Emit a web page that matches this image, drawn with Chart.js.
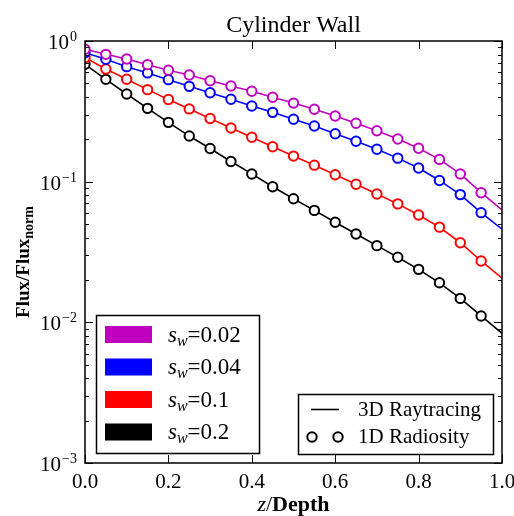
<!DOCTYPE html>
<html>
<head>
<meta charset="utf-8">
<script src="https://cdn.jsdelivr.net/npm/chart.js@4"></script>
<style>
  html, body { margin: 0; padding: 0; background: #fff; }
  canvas { display: block; }
</style>
</head>
<body>
<canvas id="chart" width="514" height="516"></canvas>
<script>
const depth = [0, 0.05, 0.1, 0.15, 0.2, 0.25, 0.3, 0.35, 0.4, 0.45, 0.5,
               0.55, 0.6, 0.65, 0.7, 0.75, 0.8, 0.85, 0.9, 0.95, 1.0];

const flux002 = [0.873, 0.804, 0.745, 0.679, 0.619, 0.573, 0.522, 0.479, 0.439, 0.398, 0.362,
                 0.327, 0.293, 0.260, 0.230, 0.201, 0.173, 0.144, 0.1135, 0.0835, 0.0629];
const flux004 = [0.826, 0.741, 0.657, 0.593, 0.531, 0.476, 0.429, 0.385, 0.345, 0.311, 0.278,
                 0.249, 0.219, 0.194, 0.170, 0.147, 0.125, 0.102, 0.0809, 0.0602, 0.0459];
const flux01  = [0.761, 0.632, 0.535, 0.451, 0.384, 0.329, 0.281, 0.241, 0.207, 0.177, 0.152,
                 0.131, 0.112, 0.0959, 0.0818, 0.0695, 0.0580, 0.0475, 0.0368, 0.0273, 0.0206];
const flux02  = [0.683, 0.534, 0.420, 0.332, 0.264, 0.211, 0.172, 0.139, 0.1135, 0.0920, 0.0756,
                 0.0625, 0.0515, 0.0425, 0.0351, 0.0290, 0.0238, 0.0191, 0.0148, 0.0111, 0.00836];

const seriesLabels = ['0.02', '0.04', '0.1', '0.2'];
const seriesColors = ['#bf00bf', '#0000ff', '#ff0000', '#000000'];
const seriesValues = [flux002, flux004, flux01, flux02];

const xTicks = [0, 0.2, 0.4, 0.6, 0.8, 1.0];
const xTickLabels = ['0.0', '0.2', '0.4', '0.6', '0.8', '1.0'];
const yTicks = [1, 0.1, 0.01, 0.001];
const yTickExponents = ['0', '\u22121', '\u22122', '\u22123'];

const SERIF = '"Liberation Serif", "DejaVu Serif", serif';

// last point (z = 1) is only on the raytracing line, no radiosity marker
const lastIdx = depth.length - 1;

const datasets = seriesValues.map((vals, i) => ({
    label: 's_w=' + seriesLabels[i],
    data: depth.map((x, j) => ({ x: x, y: vals[j] })),
    borderColor: seriesColors[i],
    borderWidth: 1.6,
    pointRadius: ctx => ctx.dataIndex === lastIdx ? 0 : 4.7,
    pointBorderWidth: 2,
    pointBorderColor: seriesColors[i],
    pointBackgroundColor: '#ffffff',
    tension: 0,
    clip: 0
}));

function drawFrame(chart) {
    const ctx = chart.ctx;
    const a = chart.chartArea;
    const xs = chart.scales.x, ys = chart.scales.y;
    ctx.save();
    ctx.strokeStyle = '#000';
    ctx.lineWidth = 1.5;
    ctx.strokeRect(a.left, a.top, a.right - a.left, a.bottom - a.top);

    ctx.lineWidth = 1;
    ctx.beginPath();
    xTicks.forEach(v => {
        const px = Math.round(xs.getPixelForValue(v)) + 0.5;
        ctx.moveTo(px, a.bottom); ctx.lineTo(px, a.bottom - 8);
        ctx.moveTo(px, a.top); ctx.lineTo(px, a.top + 8);
    });
    yTicks.forEach(v => {
        const py = Math.round(ys.getPixelForValue(v)) + 0.5;
        ctx.moveTo(a.left, py); ctx.lineTo(a.left + 8, py);
        ctx.moveTo(a.right, py); ctx.lineTo(a.right - 8, py);
    });
    // minor log ticks
    [0.001, 0.01, 0.1].forEach(dec => {
        for (let m = 2; m <= 9; m++) {
            const py = Math.round(ys.getPixelForValue(dec * m)) + 0.5;
            ctx.moveTo(a.left, py); ctx.lineTo(a.left + 4, py);
            ctx.moveTo(a.right, py); ctx.lineTo(a.right - 4, py);
        }
    });
    ctx.stroke();

    ctx.fillStyle = '#000';
    // x tick labels
    ctx.font = '21px ' + SERIF;
    ctx.textAlign = 'center';
    ctx.textBaseline = 'alphabetic';
    xTicks.forEach((v, i) => {
        ctx.fillText(xTickLabels[i], xs.getPixelForValue(v), 488);
    });

    // y tick labels 10^n
    yTicks.forEach((v, i) => {
        const py = ys.getPixelForValue(v);
        ctx.font = '14px ' + SERIF;
        const supW = ctx.measureText(yTickExponents[i]).width;
        const right = a.left - 8;
        ctx.textAlign = 'right';
        ctx.fillText(yTickExponents[i], right, py);
        ctx.font = '21px ' + SERIF;
        ctx.fillText('10', right - supW - 1, py + 8);
    });

    // title
    ctx.font = '24px ' + SERIF;
    ctx.textAlign = 'center';
    ctx.fillText('Cylinder Wall', (a.left + a.right) / 2, 32);

    // x axis title: z/Depth
    drawRuns(ctx, [
        { t: 'z', f: 'italic 22px ' + SERIF, dy: 0 },
        { t: '/', f: '22px ' + SERIF, dy: 0 },
        { t: 'Depth', f: 'bold 22px ' + SERIF, dy: 0 }
    ], (a.left + a.right) / 2, 511, 'center');

    // y axis title: Flux/Flux_norm (rotated)
    ctx.save();
    ctx.translate(29, 262);
    ctx.rotate(-Math.PI / 2);
    drawRuns(ctx, [
        { t: 'Flux/Flux', f: 'bold 19px ' + SERIF, dy: 0 },
        { t: 'norm', f: 'bold 14px ' + SERIF, dy: 4 }
    ], 0, 0, 'center');
    ctx.restore();

    drawLegends(ctx);
    ctx.restore();
}

function drawRuns(ctx, runs, x, y, align) {
    ctx.save();
    ctx.textAlign = 'left';
    let total = 0;
    runs.forEach(r => { ctx.font = r.f; r.w = ctx.measureText(r.t).width; total += r.w; });
    let cx = align === 'center' ? x - total / 2 : x;
    runs.forEach(r => {
        ctx.font = r.f;
        ctx.fillText(r.t, cx, y + r.dy);
        cx += r.w;
    });
    ctx.restore();
}

function drawLegends(ctx) {
    ctx.save();
    ctx.fillStyle = '#fff';
    ctx.strokeStyle = '#000';
    ctx.lineWidth = 1.5;
    // series legend
    ctx.fillRect(96.5, 315.5, 163, 138);
    ctx.strokeRect(96.5, 315.5, 163, 138);
    const rowY = [334.5, 367, 399.5, 432];
    seriesLabels.forEach((lab, i) => {
        ctx.fillStyle = seriesColors[i];
        ctx.fillRect(105, rowY[i] - 8.5, 47, 17);
        ctx.fillStyle = '#000';
        drawRuns(ctx, [
            { t: 's', f: 'italic 23px ' + SERIF, dy: 0 },
            { t: 'w', f: 'italic 16px ' + SERIF, dy: 4 },
            { t: '=' + lab, f: '23px ' + SERIF, dy: 0 }
        ], 168, rowY[i] + 7, 'left');
    });

    // method legend
    ctx.fillStyle = '#fff';
    ctx.fillRect(298.5, 394.5, 195, 60);
    ctx.strokeRect(298.5, 394.5, 195, 60);
    ctx.lineWidth = 1.6;
    ctx.beginPath();
    ctx.moveTo(311, 409.5); ctx.lineTo(339, 409.5);
    ctx.stroke();
    ctx.lineWidth = 2;
    [312, 338].forEach(cx => {
        ctx.beginPath();
        ctx.arc(cx, 437, 4.7, 0, Math.PI * 2);
        ctx.fillStyle = '#fff';
        ctx.fill();
        ctx.stroke();
    });
    ctx.fillStyle = '#000';
    ctx.font = '21px ' + SERIF;
    ctx.textAlign = 'left';
    ctx.fillText('3D Raytracing', 358, 416);
    ctx.fillText('1D Radiosity', 358, 443);
    ctx.restore();
}

new Chart(document.getElementById('chart'), {
    type: 'line',
    data: { datasets: datasets },
    options: {
        responsive: false,
        animation: false,
        layout: { padding: { left: 85, right: 12, top: 41, bottom: 53 } },
        plugins: { legend: { display: false }, tooltip: { enabled: false } },
        scales: {
            x: { type: 'linear', min: 0, max: 1, display: false },
            y: { type: 'logarithmic', min: 0.001, max: 1, display: false }
        }
    },
    plugins: [{ id: 'frame', afterDraw: drawFrame }]
});
</script>
</body>
</html>
